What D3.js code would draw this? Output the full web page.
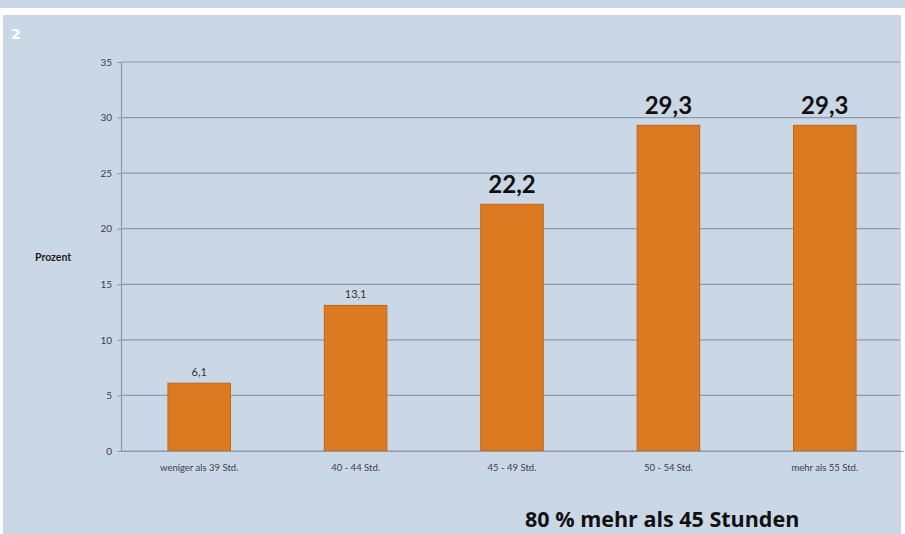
<!DOCTYPE html>
<html>
<head>
<meta charset="utf-8">
<script src="https://cdn.jsdelivr.net/npm/d3@7"></script>
<style>
  html, body { margin: 0; padding: 0; background: #ffffff; }
  svg { display: block; }
</style>
</head>
<body>
<svg id="chart" width="905" height="534"></svg>
<script>
// Weekly working hours, share in percent
const categories = ["weniger als 39 Std.", "40 - 44 Std.", "45 - 49 Std.", "50 - 54 Std.", "mehr als 55 Std."];
const values = [6.1, 13.1, 22.2, 29.3, 29.3];
const valueLabels = ["6,1", "13,1", "22,2", "29,3", "29,3"];
const emphasised = [false, false, true, true, true];
const yTicks = [0, 5, 10, 15, 20, 25, 30, 35];
const yTickLabels = ["0", "5", "10", "15", "20", "25", "30", "35"];
const figureNumber = "2";
const yTitle = "Prozent";
const footnote = "80 % mehr als 45 Stunden";

const svg = d3.select("#chart");
const W = 905, H = 534;
const font = "Lato, 'Open Sans', sans-serif";

// Background bands
svg.append("rect").attr("x", 0).attr("y", 0).attr("width", W).attr("height", 8).attr("fill", "#c9d6e5");
svg.append("rect").attr("x", 3).attr("y", 15).attr("width", 898).attr("height", H - 15).attr("fill", "#cad7e6");

const x = d3.scaleBand().domain(categories).range([121, 903]).paddingInner(0.6).paddingOuter(0.3);
const y = d3.scaleLinear().domain([0, 35]).range([451, 62]);

// Gridlines
svg.append("g")
  .selectAll("line")
  .data(yTicks)
  .join("line")
  .attr("x1", 121).attr("x2", 900)
  .attr("y1", d => y(d)).attr("y2", d => y(d))
  .attr("stroke", "#8f9aa5").attr("stroke-width", 1.2);

// Y axis
const yAxis = svg.append("g")
  .attr("transform", "translate(121,0)")
  .call(d3.axisLeft(y).tickValues(yTicks).tickFormat((d, i) => yTickLabels[i]).tickSize(4).tickPadding(5));
yAxis.select(".domain").attr("stroke", "#8f9aa5").attr("stroke-width", 1.2);
yAxis.selectAll(".tick line").attr("stroke", "#8f9aa5");
yAxis.selectAll("text").attr("font-family", font).attr("font-size", 10).attr("fill", "#3a3f45");

// Bars
svg.append("g")
  .selectAll("rect")
  .data(values)
  .join("rect")
  .attr("x", (d, i) => x(categories[i]))
  .attr("width", x.bandwidth())
  .attr("y", d => y(d))
  .attr("height", d => y(0) - y(d))
  .attr("fill", "#dc7a22")
  .attr("stroke", "#c4661a")
  .attr("stroke-width", 1);

// X axis
const xAxis = svg.append("g")
  .attr("transform", "translate(0,451)")
  .call(d3.axisBottom(x).tickSize(0).tickPadding(13));
xAxis.select(".domain").attr("stroke", "#8f9aa5").attr("stroke-width", 1.2);
xAxis.selectAll("text").attr("font-family", font).attr("font-size", 9.5).attr("fill", "#3a3f45");

// Value labels
svg.append("g")
  .selectAll("text")
  .data(values)
  .join("text")
  .attr("x", (d, i) => x(categories[i]) + x.bandwidth() / 2)
  .attr("y", (d, i) => y(d) - (emphasised[i] ? 11 : 7))
  .attr("text-anchor", "middle")
  .attr("font-family", font)
  .attr("font-weight", (d, i) => emphasised[i] ? 700 : 400)
  .attr("font-size", (d, i) => emphasised[i] ? 24 : 11)
  .attr("fill", (d, i) => emphasised[i] ? "#111" : "#333")
  .text((d, i) => valueLabels[i]);

// Axis title
svg.append("text")
  .attr("x", 35).attr("y", 261)
  .attr("font-family", font).attr("font-weight", 700).attr("font-size", 10.5)
  .attr("fill", "#222").text(yTitle);

// Figure number
svg.append("text")
  .attr("x", 11).attr("y", 39)
  .attr("font-family", "'DejaVu Sans', sans-serif").attr("font-weight", 700).attr("font-size", 14)
  .attr("fill", "#ffffff").text(figureNumber);

// Footnote
svg.append("text")
  .attr("x", 525).attr("y", 527)
  .attr("font-family", "'Open Sans', sans-serif").attr("font-weight", 700).attr("font-size", 21.5)
  .attr("fill", "#111").text(footnote);
</script>
</body>
</html>
